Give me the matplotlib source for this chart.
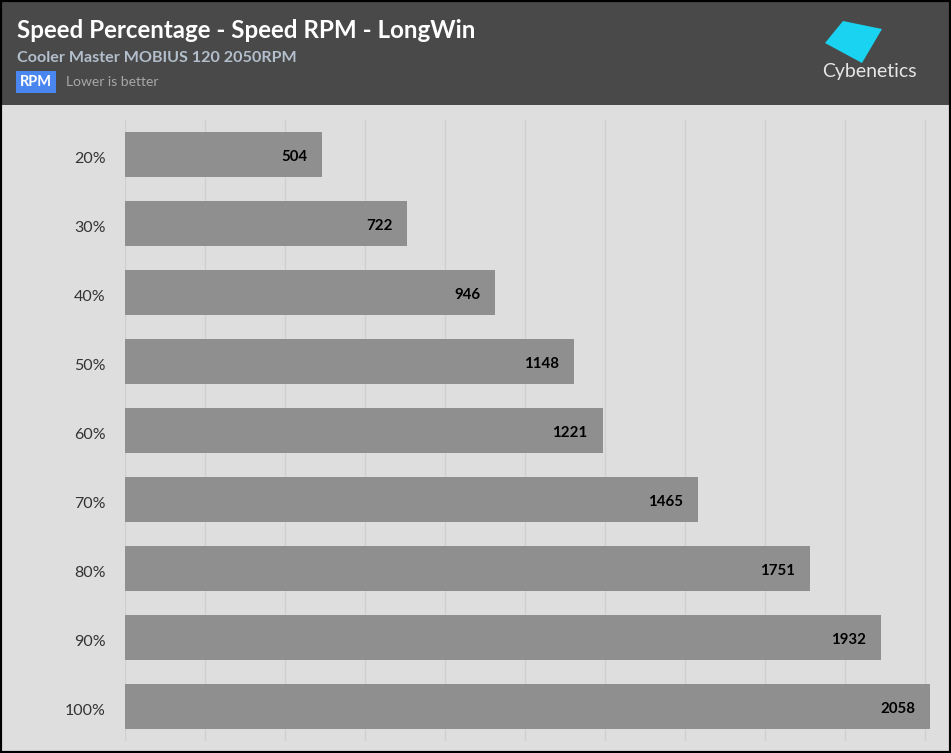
import matplotlib.pyplot as plt
from matplotlib.patches import Rectangle, Polygon
import numpy as np

# Data
speed_labels = ["20%", "30%", "40%", "50%", "60%", "70%", "80%", "90%", "100%"]
rpm_values = [504, 722, 946, 1148, 1221, 1465, 1751, 1932, 2058]

title = "Speed Percentage - Speed RPM - LongWin"
subtitle = "Cooler Master MOBIUS 120 2050RPM"
unit_badge = "RPM"
hint = "Lower is better"

W, H = 951, 753
fig = plt.figure(figsize=(W / 100, H / 100), dpi=100)
fig.patch.set_facecolor("#dedede")
plt.rcParams['font.family'] = ['Lato', 'DejaVu Sans']

# header band
header_h = 105
fig.add_artist(Rectangle((0, 1 - header_h / H), 1, header_h / H,
                         transform=fig.transFigure, facecolor="#494949",
                         edgecolor="none", zorder=0))

fig.text(17 / W, 1 - 30 / H, title, color="white", fontsize=17.4,
         fontweight="bold", va="center", ha="left")
fig.text(17 / W, 1 - 58 / H, subtitle, color="#b3bfcc", fontsize=11.6,
         fontweight="bold", va="center", ha="left")
fig.text(36 / W, 1 - 82 / H, unit_badge, color="white", fontsize=10.5,
         fontweight="bold", va="center", ha="center",
         bbox=dict(boxstyle="square,pad=0.25", facecolor="#4a86f0",
                   edgecolor="none"))
fig.text(66 / W, 1 - 82 / H, hint, color="#a8a8a8", fontsize=10,
         va="center", ha="left")

# logo
logo = [(843, 21), (882, 29), (862, 63), (825, 43)]
fig.add_artist(Polygon([(x / W, 1 - y / H) for x, y in logo], closed=True,
                       transform=fig.transFigure, facecolor="#19d3f0",
                       edgecolor="none"))
fig.text(869 / W, 1 - 72 / H, "Cybenetics", color="#e6e6e6", fontsize=14,
         va="center", ha="center")

# plot area
ax_left, ax_right, ax_top, ax_bottom = 125, 945, 120, 741
ax = fig.add_axes([ax_left / W, 1 - ax_bottom / H,
                   (ax_right - ax_left) / W, (ax_bottom - ax_top) / H])
ax.set_facecolor("#dedede")

y = np.arange(len(speed_labels))
ax.barh(y, rpm_values, height=0.65, color="#8f8f8f", zorder=2)

px_per_unit = 805 / 2058
ax.set_xlim(0, (ax_right - ax_left) / px_per_unit)
ax.set_ylim(len(speed_labels) - 0.5, -0.5)

ax.set_xticks(np.linspace(0, 2045, 11))
ax.set_xticklabels([])
ax.tick_params(axis="x", length=0)
ax.grid(axis="x", color="#cfcfcf", linewidth=1, zorder=0)

# labels sit slightly below the bar centre in the original
ax.set_yticks(y + 0.05)
ax.set_yticklabels(speed_labels, color="#333333", fontsize=11.5)
ax.tick_params(axis="y", length=0, pad=14)

for s in ax.spines.values():
    s.set_visible(False)

for yi, v in zip(y, rpm_values):
    ax.text(v - 15 / px_per_unit, yi + 0.035, str(v), ha="right", va="center",
            fontsize=10.8, fontweight="bold", color="black", zorder=3)

# outer black frame
fig.add_artist(Rectangle((0, 0), 1, 1, transform=fig.transFigure,
                         facecolor="none", edgecolor="black", linewidth=3,
                         zorder=10))

fig.savefig("out.png", dpi=100, facecolor=fig.get_facecolor())
